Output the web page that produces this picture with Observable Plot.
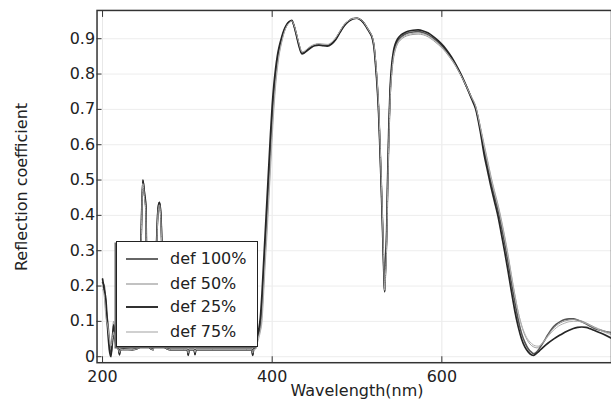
<!DOCTYPE html>
<html><head><meta charset="utf-8">
<script src="https://cdn.jsdelivr.net/npm/d3@7"></script>
<script src="https://cdn.jsdelivr.net/npm/@observablehq/plot@0.6"></script>
<style>
html,body{margin:0;padding:0;background:#fff;overflow:hidden;}
#wrap{position:relative;width:611px;height:407px;overflow:hidden;font-family:"DejaVu Sans",sans-serif;color:#222;}
#wrap svg{display:block;}
#ylab{position:absolute;left:22px;top:187px;transform:translate(-50%,-50%) rotate(-90deg);font-size:16px;white-space:nowrap;line-height:16px;}
#xlab{position:absolute;left:357px;top:383px;transform:translateX(-50%);font-size:16px;white-space:nowrap;line-height:16px;}
#legend{position:absolute;left:116px;top:241px;width:142px;height:106px;box-sizing:border-box;border:1.5px solid #222;background:#fff;box-shadow:-1.5px 1.5px 0 #666;}
.row{position:absolute;left:0;height:20px;width:140px;}
.row svg{position:absolute;left:9px;top:0;}
.row span{position:absolute;left:53px;top:1px;font-size:16px;line-height:18px;white-space:nowrap;}
</style>
</head><body>
<div id="wrap">
  <div id="chart"></div>
  <div id="ylab">Reflection coefficient</div>
  <div id="xlab">Wavelength(nm)</div>
  <div id="legend"></div>
</div>
<script>
// ---- data ----
const seriesNames = ["def 100%", "def 50%", "def 25%", "def 75%"];
const xTicks = [200, 400, 600];
const yTicks = [0, 0.1, 0.2, 0.3, 0.4, 0.5, 0.6, 0.7, 0.8, 0.9];
const yTickLabels = ["0", "0.1", "0.2", "0.3", "0.4", "0.5", "0.6", "0.7", "0.8", "0.9"];

const wavelength = [
  200, 202, 204, 206, 208, 210, 213, 216, 219, 220, 221, 225, 235, 243, 245.5, 247.5, 249.5, 251, 252, 254,
  260, 263.5, 265.5, 267, 268.5, 270, 272, 280, 295, 300, 301, 302, 308, 309, 310, 330, 355, 370, 376, 377,
  378, 380, 382, 384, 386, 388, 390, 392, 394, 396, 398, 400, 402, 404, 406, 408, 411, 414, 417, 420,
  423, 426, 429, 432, 435, 438, 442, 446, 450, 455, 460, 465, 470, 475, 480, 485, 490, 495, 500, 505,
  508, 512, 515, 518, 520, 522, 524, 525.5, 527, 528.5, 530, 531, 532, 532.6, 533.5, 535, 536, 537.5, 539, 541,
  543, 545, 548, 552, 556, 560, 566, 572, 578, 584, 590, 596, 602, 608, 614, 619, 624, 629, 635, 640,
  645, 650, 654, 658, 662, 666, 670, 674, 678, 682, 686, 690, 694, 698, 702, 706, 708, 710, 712, 714,
  716, 720, 725, 730, 735, 740, 745, 750, 755, 760, 765, 770, 775, 780, 790, 800
];

const def100 = [
  0.21, 0.20, 0.14, 0.10, 0.05, 0.01, 0.06, 0.03, 0.02, 0.008, 0.02, 0.02, 0.02, 0.025, 0.33, 0.50, 0.46, 0.42, 0.25, 0.03,
  0.02, 0.30, 0.42, 0.437, 0.41, 0.30, 0.03, 0.02, 0.02, 0.02, 0.006, 0.02, 0.02, 0.008, 0.02, 0.02, 0.02, 0.02, 0.02, 0.006,
  0.02, 0.03, 0.05, 0.065, 0.085, 0.14, 0.23, 0.32, 0.40, 0.49, 0.58, 0.67, 0.74, 0.795, 0.835, 0.865, 0.897, 0.922, 0.938, 0.947,
  0.951, 0.935, 0.908, 0.879, 0.859, 0.862, 0.870, 0.877, 0.882, 0.884, 0.882, 0.881, 0.887, 0.900, 0.920, 0.938, 0.950, 0.957, 0.958, 0.952,
  0.945, 0.930, 0.918, 0.903, 0.880, 0.830, 0.765, 0.700, 0.605, 0.500, 0.385, 0.300, 0.220, 0.183, 0.240, 0.340, 0.470, 0.625, 0.740, 0.815,
  0.855, 0.875, 0.893, 0.905, 0.912, 0.916, 0.919, 0.920, 0.917, 0.911, 0.901, 0.889, 0.874, 0.856, 0.835, 0.814, 0.791, 0.765, 0.733, 0.705,
  0.650, 0.585, 0.540, 0.495, 0.455, 0.417, 0.372, 0.322, 0.268, 0.210, 0.155, 0.105, 0.066, 0.040, 0.022, 0.012, 0.009, 0.010, 0.014, 0.020,
  0.027, 0.042, 0.062, 0.080, 0.092, 0.100, 0.105, 0.107, 0.107, 0.104, 0.099, 0.093, 0.086, 0.080, 0.073, 0.068
];

const def50 = [
  0.20, 0.18, 0.12, 0.08, 0.04, 0.02, 0.10, 0.04, 0.02, 0.015, 0.02, 0.018, 0.02, 0.025, 0.32, 0.49, 0.45, 0.41, 0.24, 0.03,
  0.02, 0.29, 0.41, 0.43, 0.40, 0.29, 0.03, 0.02, 0.02, 0.02, 0.012, 0.02, 0.02, 0.014, 0.02, 0.02, 0.02, 0.02, 0.02, 0.012,
  0.02, 0.025, 0.04, 0.06, 0.075, 0.115, 0.20, 0.29, 0.37, 0.46, 0.55, 0.64, 0.715, 0.775, 0.82, 0.855, 0.89, 0.918, 0.936, 0.946,
  0.950, 0.936, 0.910, 0.882, 0.862, 0.864, 0.872, 0.879, 0.883, 0.885, 0.884, 0.883, 0.889, 0.902, 0.921, 0.939, 0.951, 0.957, 0.958, 0.953,
  0.946, 0.931, 0.919, 0.905, 0.884, 0.838, 0.775, 0.712, 0.620, 0.515, 0.400, 0.315, 0.232, 0.190, 0.225, 0.320, 0.445, 0.600, 0.720, 0.800,
  0.843, 0.866, 0.886, 0.898, 0.905, 0.909, 0.912, 0.913, 0.911, 0.905, 0.895, 0.883, 0.869, 0.851, 0.831, 0.811, 0.789, 0.764, 0.734, 0.708,
  0.656, 0.600, 0.555, 0.510, 0.470, 0.433, 0.390, 0.342, 0.290, 0.232, 0.177, 0.127, 0.088, 0.060, 0.042, 0.031, 0.028, 0.026, 0.025, 0.027,
  0.031, 0.043, 0.060, 0.076, 0.088, 0.096, 0.101, 0.104, 0.105, 0.104, 0.101, 0.096, 0.090, 0.084, 0.074, 0.066
];

const def25 = [
  0.22, 0.19, 0.16, 0.08, 0.02, 0.00, 0.09, 0.04, 0.02, 0.005, 0.02, 0.022, 0.02, 0.025, 0.34, 0.50, 0.46, 0.43, 0.26, 0.03,
  0.02, 0.31, 0.42, 0.437, 0.41, 0.31, 0.03, 0.02, 0.02, 0.02, 0.004, 0.02, 0.02, 0.006, 0.02, 0.02, 0.02, 0.02, 0.02, 0.004,
  0.02, 0.035, 0.055, 0.075, 0.11, 0.18, 0.27, 0.36, 0.45, 0.54, 0.63, 0.71, 0.77, 0.815, 0.85, 0.875, 0.903, 0.925, 0.94, 0.948,
  0.952, 0.934, 0.905, 0.876, 0.857, 0.860, 0.868, 0.875, 0.880, 0.882, 0.880, 0.879, 0.885, 0.898, 0.918, 0.937, 0.949, 0.956, 0.958, 0.952,
  0.944, 0.929, 0.917, 0.901, 0.876, 0.822, 0.755, 0.688, 0.590, 0.485, 0.370, 0.285, 0.210, 0.185, 0.255, 0.360, 0.495, 0.650, 0.758, 0.828,
  0.865, 0.884, 0.900, 0.911, 0.917, 0.921, 0.924, 0.925, 0.922, 0.916, 0.906, 0.894, 0.879, 0.860, 0.838, 0.816, 0.792, 0.765, 0.730, 0.700,
  0.642, 0.570, 0.525, 0.480, 0.440, 0.400, 0.350, 0.298, 0.243, 0.185, 0.130, 0.085, 0.050, 0.027, 0.013, 0.005, 0.004, 0.006, 0.010, 0.014,
  0.019, 0.028, 0.038, 0.047, 0.055, 0.062, 0.069, 0.075, 0.080, 0.083, 0.084, 0.083, 0.079, 0.074, 0.064, 0.052
];

const def75 = [
  0.19, 0.17, 0.11, 0.09, 0.05, 0.03, 0.07, 0.03, 0.02, 0.012, 0.02, 0.02, 0.02, 0.025, 0.32, 0.49, 0.45, 0.41, 0.24, 0.03,
  0.02, 0.29, 0.41, 0.43, 0.40, 0.29, 0.03, 0.02, 0.02, 0.02, 0.010, 0.02, 0.02, 0.012, 0.02, 0.02, 0.02, 0.02, 0.02, 0.010,
  0.02, 0.02, 0.035, 0.05, 0.07, 0.10, 0.18, 0.27, 0.35, 0.44, 0.53, 0.62, 0.70, 0.765, 0.812, 0.85, 0.887, 0.916, 0.935, 0.945,
  0.950, 0.937, 0.911, 0.883, 0.863, 0.865, 0.873, 0.880, 0.884, 0.886, 0.885, 0.884, 0.890, 0.903, 0.922, 0.940, 0.951, 0.957, 0.958, 0.953,
  0.946, 0.931, 0.919, 0.905, 0.883, 0.836, 0.772, 0.708, 0.615, 0.510, 0.395, 0.310, 0.228, 0.188, 0.230, 0.325, 0.455, 0.610, 0.728, 0.806,
  0.848, 0.870, 0.889, 0.901, 0.908, 0.912, 0.915, 0.916, 0.914, 0.908, 0.898, 0.886, 0.871, 0.853, 0.833, 0.812, 0.790, 0.765, 0.734, 0.707,
  0.653, 0.595, 0.550, 0.505, 0.465, 0.428, 0.385, 0.337, 0.285, 0.228, 0.174, 0.126, 0.090, 0.064, 0.047, 0.037, 0.033, 0.031, 0.030, 0.030,
  0.033, 0.042, 0.057, 0.071, 0.082, 0.090, 0.095, 0.099, 0.100, 0.100, 0.098, 0.094, 0.088, 0.082, 0.071, 0.062
];

// ---- presentation ----
const seriesValues = [def100, def50, def25, def75];
const styles = {
  "def 100%": {stroke: "#555", width: 1.6},
  "def 50%":  {stroke: "#9a9a9a", width: 1},
  "def 25%":  {stroke: "#262626", width: 1.7},
  "def 75%":  {stroke: "#b0b0b0", width: 1}
};

const rows = seriesNames.flatMap((name, s) =>
  wavelength.map((w, i) => ({series: name, wavelength: w, R: seriesValues[s][i]})));

const lineMarks = seriesNames.map(name =>
  Plot.line(rows.filter(d => d.series === name), {
    x: "wavelength", y: "R", stroke: styles[name].stroke, strokeWidth: styles[name].width,
    curve: "monotone-x", clip: true
  }));

const chart = Plot.plot({
  width: 614, height: 407,
  marginLeft: 97, marginRight: 0, marginTop: 10, marginBottom: 43,
  x: {domain: [193.5, 800]},
  y: {domain: [-0.017, 0.98]},
  style: {fontFamily: "DejaVu Sans, sans-serif", fontSize: "16px", color: "#222", background: "white"},
  marks: [
    Plot.gridX(xTicks, {stroke: "#e8e8e8", strokeOpacity: 1}),
    Plot.gridY(yTicks, {stroke: "#ededed", strokeOpacity: 1}),
    ...lineMarks,
    Plot.frame({stroke: "#333", strokeWidth: 1.5}),
    Plot.axisY(yTicks, {tickSize: 0, tickPadding: 2, tickFormat: d => yTickLabels[yTicks.indexOf(d)], label: null}),
    Plot.axisY(yTicks, {tickSize: 5, text: null, dx: 5, label: null, stroke: "#333"}),
    Plot.axisX(xTicks, {anchor: "bottom", tickSize: 0, tickPadding: 8, label: null}),
    Plot.axisX(xTicks, {anchor: "bottom", tickSize: 6, text: null, dy: -6, label: null, stroke: "#333"}),
    Plot.axisX(xTicks, {anchor: "top", tickSize: 6, text: null, dy: 6, label: null, stroke: "#333"})
  ]
});
document.getElementById("chart").appendChild(chart);

// legend
const legend = document.getElementById("legend");
const rowTops = [7, 32, 55, 80];
seriesNames.forEach((name, i) => {
  const row = document.createElement("div");
  row.className = "row";
  row.style.top = rowTops[i] + "px";
  row.innerHTML = `<svg width="34" height="20"><line x1="0" x2="32" y1="10" y2="10" stroke="${styles[name].stroke}" stroke-width="${styles[name].width + 0.2}"/></svg><span>${name}</span>`;
  legend.appendChild(row);
});
</script>
</body></html>
